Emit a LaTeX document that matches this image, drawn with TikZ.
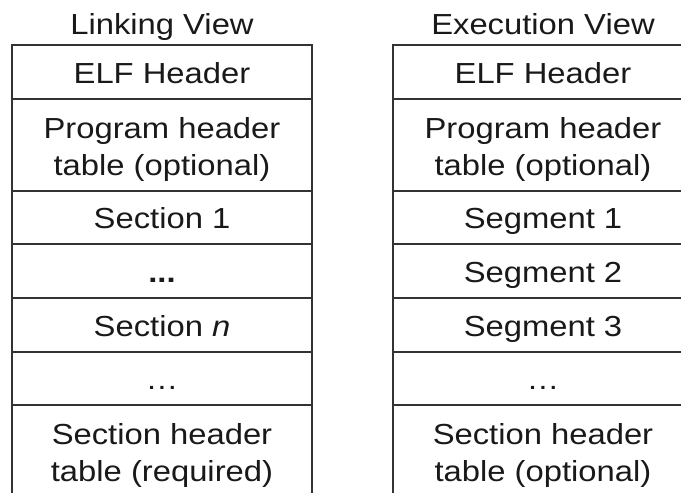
\documentclass[tikz,border=0pt]{standalone}
\usepackage{fontspec}
\setmainfont{Liberation Sans}
\usepackage{graphicx}
% centred, slightly widened cell text (one or more lines)
\newcommand{\celltext}[1]{\scalebox{1.13}[1]{\begin{tabular}[t]{@{}c@{}}#1\end{tabular}}}
\begin{document}
\begin{tikzpicture}[x=1pt,y=-1pt,
  frame/.style={draw=black!80, line width=1.3pt},
  lbl/.style={anchor=base, inner sep=0pt, text=black!90,
              font=\fontsize{29}{37}\selectfont}]
\useasboundingbox (0,0) rectangle (681,493);
\clip (0,0) rectangle (681,493);

% column frames (open at the bottom)
\draw[frame] (12,493) -- (12,45) -- (312,45) -- (312,493);
\draw[frame] (393,493) -- (393,45) -- (693,45) -- (693,493);
\foreach \y in {99,191,244,298,352,405} {
  \draw[frame] (12,\y) -- (312,\y);
  \draw[frame] (393,\y) -- (693,\y);
}

% linking view
\node[lbl] (ltitle) at (162,34.3) {\celltext{Linking View}};
\node[lbl] (lelf)   at (162,83.3) {\celltext{ELF Header}};
\node[lbl] (lpht)   at (162,138.3) {\celltext{Program header\\table (optional)}};
\node[lbl] (lsec1)  at (162,228.5) {\celltext{Section 1}};
\node[lbl] (ldots1) at (162,282.5) {\celltext{\textbf{...}}};
\node[lbl] (lsecn)  at (162,336) {\celltext{Section \textit{n}}};
\node[lbl] (ldots2) at (162,389.5) {\celltext{…}};
\node[lbl] (lsht)   at (162,444.3) {\celltext{Section header\\table (required)}};

% execution view
\node[lbl] (rtitle) at (543,34.3) {\celltext{Execution View}};
\node[lbl] (relf)   at (543,83.3) {\celltext{ELF Header}};
\node[lbl] (rpht)   at (543,138.3) {\celltext{Program header\\table (optional)}};
\node[lbl] (rseg1)  at (543,228.5) {\celltext{Segment 1}};
\node[lbl] (rseg2)  at (543,282.5) {\celltext{Segment 2}};
\node[lbl] (rseg3)  at (543,336) {\celltext{Segment 3}};
\node[lbl] (rdots)  at (543,389.5) {\celltext{…}};
\node[lbl] (rsht)   at (543,444.3) {\celltext{Section header\\table (optional)}};
\end{tikzpicture}
\end{document}
